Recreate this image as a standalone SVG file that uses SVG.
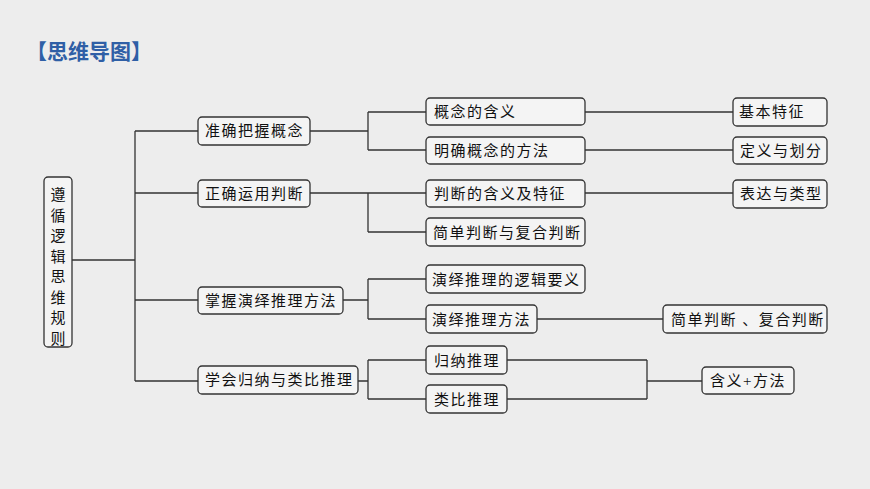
<svg xmlns="http://www.w3.org/2000/svg" width="870" height="489" viewBox="0 0 870 489">
<style>
.b{fill:#f4f4f4;stroke:#333;stroke-width:1.3}
.t{font-family:"Liberation Serif","Noto Sans CJK SC",serif;font-size:15px;fill:#111;letter-spacing:1.5px}
.c{fill:none;stroke:#333;stroke-width:1.3}
</style>
<rect width="870" height="489" fill="#ededed"/>
<text x="26" y="59" font-family="'Noto Sans CJK SC',sans-serif" font-size="21" font-weight="bold" fill="#2f5fa6">【思维导图】</text>
<g id="connectors" class="c">
<path d="M72 260H135M135 131V381M135 131H198M135 193H198M135 300H198M135 381H198"/>
<path d="M310 131H368M368 112V150M368 112H426M368 150H426M585 112H733M585 150H733"/>
<path d="M310 193H368M368 193V232M368 193H426M368 232H426M585 193H733"/>
<path d="M343 300H368M368 279V319M368 279H426M368 319H426M537 319H663"/>
<path d="M358 381H368M368 360V399M368 360H426M368 399H426M507 360H647M507 399H647M647 360V399M647 381H702"/>
</g>
<g id="root"><rect class="b" x="44" y="177" width="28" height="170" rx="4"/>
<text class="t" x="58" y="200" text-anchor="middle" style="letter-spacing:0"><tspan x="58">遵</tspan><tspan x="58" dy="20.5">循</tspan><tspan x="58" dy="20.5">逻</tspan><tspan x="58" dy="20.5">辑</tspan><tspan x="58" dy="20.5">思</tspan><tspan x="58" dy="20.5">维</tspan><tspan x="58" dy="20.5">规</tspan><tspan x="58" dy="20.5">则</tspan></text></g>
<g id="n1"><rect class="b" x="198" y="117" width="112" height="28" rx="4"/><text class="t" x="205" y="136">准确把握概念</text></g>
<g id="n2"><rect class="b" x="198" y="180" width="112" height="27" rx="4"/><text class="t" x="205" y="199">正确运用判断</text></g>
<g id="n3"><rect class="b" x="198" y="287" width="145" height="27" rx="4"/><text class="t" x="205" y="306">掌握演绎推理方法</text></g>
<g id="n4"><rect class="b" x="198" y="366" width="160" height="28" rx="4"/><text class="t" x="205" y="385">学会归纳与类比推理</text></g>
<g id="n11"><rect class="b" x="426" y="98" width="159" height="27" rx="4"/><text class="t" x="434" y="117">概念的含义</text></g>
<g id="n12"><rect class="b" x="426" y="137" width="159" height="27" rx="4"/><text class="t" x="434" y="156">明确概念的方法</text></g>
<g id="n21"><rect class="b" x="426" y="180" width="159" height="27" rx="4"/><text class="t" x="434" y="199">判断的含义及特征</text></g>
<g id="n22"><rect class="b" x="426" y="218" width="159" height="28" rx="4"/><text class="t" x="433" y="238">简单判断与复合判断</text></g>
<g id="n31"><rect class="b" x="426" y="265" width="159" height="28" rx="4"/><text class="t" x="432" y="285">演绎推理的逻辑要义</text></g>
<g id="n32"><rect class="b" x="426" y="305" width="111" height="28" rx="4"/><text class="t" x="432" y="325">演绎推理方法</text></g>
<g id="n41"><rect class="b" x="426" y="346" width="81" height="28" rx="4"/><text class="t" x="434" y="366">归纳推理</text></g>
<g id="n42"><rect class="b" x="426" y="385" width="81" height="28" rx="4"/><text class="t" x="434" y="405">类比推理</text></g>
<g id="m1"><rect class="b" x="733" y="98" width="94" height="28" rx="4"/><text class="t" x="739" y="117">基本特征</text></g>
<g id="m2"><rect class="b" x="733" y="137" width="94" height="27" rx="4"/><text class="t" x="740" y="156">定义与划分</text></g>
<g id="m3"><rect class="b" x="733" y="180" width="94" height="28" rx="4"/><text class="t" x="740" y="199">表达与类型</text></g>
<g id="m4"><rect class="b" x="663" y="305" width="164" height="28" rx="4"/><text class="t" x="671" y="325">简单判断 、复合判断</text></g>
<g id="m5"><rect class="b" x="702" y="367" width="92" height="27" rx="4"/><text class="t" x="710" y="386">含义+方法</text></g>
</svg>
